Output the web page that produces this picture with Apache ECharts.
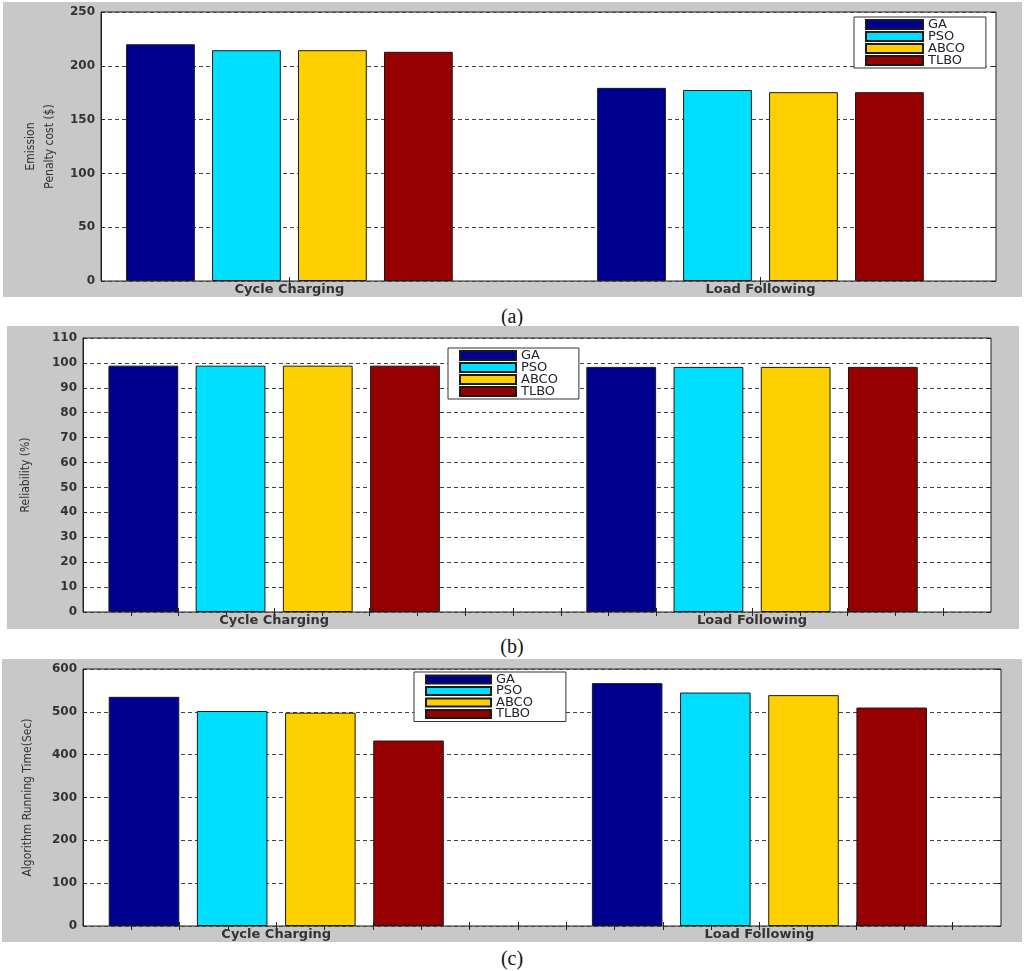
<!doctype html>
<html lang="en">
  <head>
    <meta charset="utf-8">
    <title>Emission, reliability and running time</title>
    <script src="https://cdn.jsdelivr.net/npm/echarts@6/dist/echarts.min.js"></script>
    <style>
      body { margin: 0; background: #fff; }
      .panel { position: absolute; background: #c8c8c8; }
      .cap { position: absolute; width: 60px; margin-left: -30px; text-align: center;
             font-family: 'Liberation Serif', serif; font-size: 20px; color: #111; line-height: 20px; }
    </style>
  </head>
  <body>
    <div class="panel" id="chartA" style="left:3px; top:2px; width:1019px; height:295px;"></div>
    <div class="cap" style="left:512px; top:306px;">(a)</div>
    <div class="panel" id="chartB" style="left:7px; top:326px; width:1012px; height:303px;"></div>
    <div class="cap" style="left:512px; top:636px;">(b)</div>
    <div class="panel" id="chartC" style="left:2px; top:659px; width:1020px; height:283px;"></div>
    <div class="cap" style="left:512px; top:948px;">(c)</div>

    <script type="text/javascript">
      var categories = ['Cycle Charging', 'Load Following'];
      var algos = ['GA', 'PSO', 'ABCO', 'TLBO'];
      var colors = ['#000090', '#00dfff', '#ffd000', '#960000'];

      // (a) emission penalty cost ($)
      var costGA   = [220, 179.5];
      var costPSO  = [214.5, 177.5];
      var costABCO = [214.5, 175.5];
      var costTLBO = [213, 175.5];

      // (b) reliability (%)
      var relGA   = [98.9, 98.4];
      var relPSO  = [98.9, 98.4];
      var relABCO = [98.9, 98.4];
      var relTLBO = [98.9, 98.4];

      // (c) algorithm running time (sec)
      var timeGA   = [535, 567];
      var timePSO  = [502, 545];
      var timeABCO = [498, 539];
      var timeTLBO = [433, 510];

      var tickFont = "'DejaVu Sans', sans-serif";
      var nameFont = "'Liberation Sans Narrow', 'DejaVu Sans Condensed', 'Liberation Sans', sans-serif";

      function fineTicks() {
        var t = [];
        for (var i = 7; i <= 24; i++) t.push(i / 10);
        return t;
      }

      function makeChart(id, o) {
        var chart = echarts.init(document.getElementById(id));
        var series = algos.map(function (name, k) {
          return {
            name: name, type: 'bar', xAxisIndex: 0, yAxisIndex: 0,
            barWidth: '14.6%', barGap: '25%',
            itemStyle: {color: colors[k], borderColor: '#1a1a1a', borderWidth: 1},
            emphasis: {disabled: true},
            data: o.values[k].map(function (v, i) { return [i + 1, v]; })
          };
        });
        var tickVals = o.fine ? fineTicks() : [1, 2];
        var xBase = {
          type: 'value', min: 0.6, max: 2.5,
          splitLine: {show: false},
          axisLine: {show: false}
        };
        var yBase = {
          type: 'value', min: 0, max: o.max, interval: o.step
        };
        var option = {
          animation: false,
          grid: {left: o.grid[0], top: o.grid[1], right: o.grid[2], bottom: o.grid[3],
                 show: true, backgroundColor: '#fff', borderColor: '#222', borderWidth: 1},
          legend: {
            orient: 'vertical', left: o.legend[0], top: o.legend[1],
            itemWidth: o.legend[2], itemHeight: o.legend[3], itemGap: o.legend[4],
            backgroundColor: '#fff', borderColor: '#333', borderWidth: 1,
            padding: [1, o.legend[5], 1, 11], borderRadius: 0,
            textStyle: {fontFamily: tickFont, fontSize: 13, color: '#223', lineHeight: 12},
            data: algos.map(function (a) { return {name: a, icon: 'rect'}; })
          },
          xAxis: [
            Object.assign({}, xBase, {
              position: 'bottom',
              axisTick: {inside: true, length: 4, lineStyle: {color: '#222'}, customValues: tickVals},
              axisLabel: {
                customValues: [1, 2], margin: 2,
                fontFamily: tickFont, fontWeight: 'bold', fontSize: 13, color: '#333',
                formatter: function (v) { return categories[Math.round(v) - 1]; }
              }
            }),
            Object.assign({}, xBase, {
              position: 'top',
              axisTick: {inside: true, length: 4, lineStyle: {color: '#222'}, customValues: tickVals},
              axisLabel: {show: false}
            })
          ],
          yAxis: [
            Object.assign({}, yBase, {
              position: 'left',
              name: o.yName, nameLocation: 'middle', nameRotate: 90, nameGap: o.nameGap,
              nameTextStyle: {fontFamily: nameFont, fontSize: 12, color: '#333', lineHeight: 19},
              axisLine: {show: true, lineStyle: {color: '#222'}},
              axisTick: {inside: true, length: 4, lineStyle: {color: '#222'}},
              axisLabel: {margin: 6, fontFamily: tickFont, fontWeight: 'bold', fontSize: 12, color: '#333'},
              splitLine: {show: true, lineStyle: {color: '#444', type: [4, 3], width: 1}}
            }),
            Object.assign({}, yBase, {
              position: 'right',
              axisLine: {show: false},
              axisTick: {inside: true, length: 4, lineStyle: {color: '#222'}},
              axisLabel: {show: false},
              splitLine: {show: false}
            })
          ],
          series: series
        };
        chart.setOption(option);
        return chart;
      }

      makeChart('chartA', {
        values: [costGA, costPSO, costABCO, costTLBO],
        max: 250, step: 50, fine: false,
        yName: 'Emission\nPenalty cost ($)', nameGap: 29,
        grid: [98, 10, 26, 16],
        legend: [851, 15, 57, 9, -1, 21]
      });
      makeChart('chartB', {
        values: [relGA, relPSO, relABCO, relTLBO],
        max: 110, step: 10, fine: true,
        yName: 'Reliability (%)', nameGap: 48,
        grid: [76, 12, 28, 17],
        legend: [441, 22, 56, 9, -1, 21]
      });
      makeChart('chartC', {
        values: [timeGA, timePSO, timeABCO, timeTLBO],
        max: 600, step: 100, fine: true,
        yName: 'Algorithm Running Time(Sec)', nameGap: 46,
        grid: [81, 10, 21, 16],
        legend: [412, 13, 65, 8, -1.5, 33]
      });
    </script>
  </body>
</html>
